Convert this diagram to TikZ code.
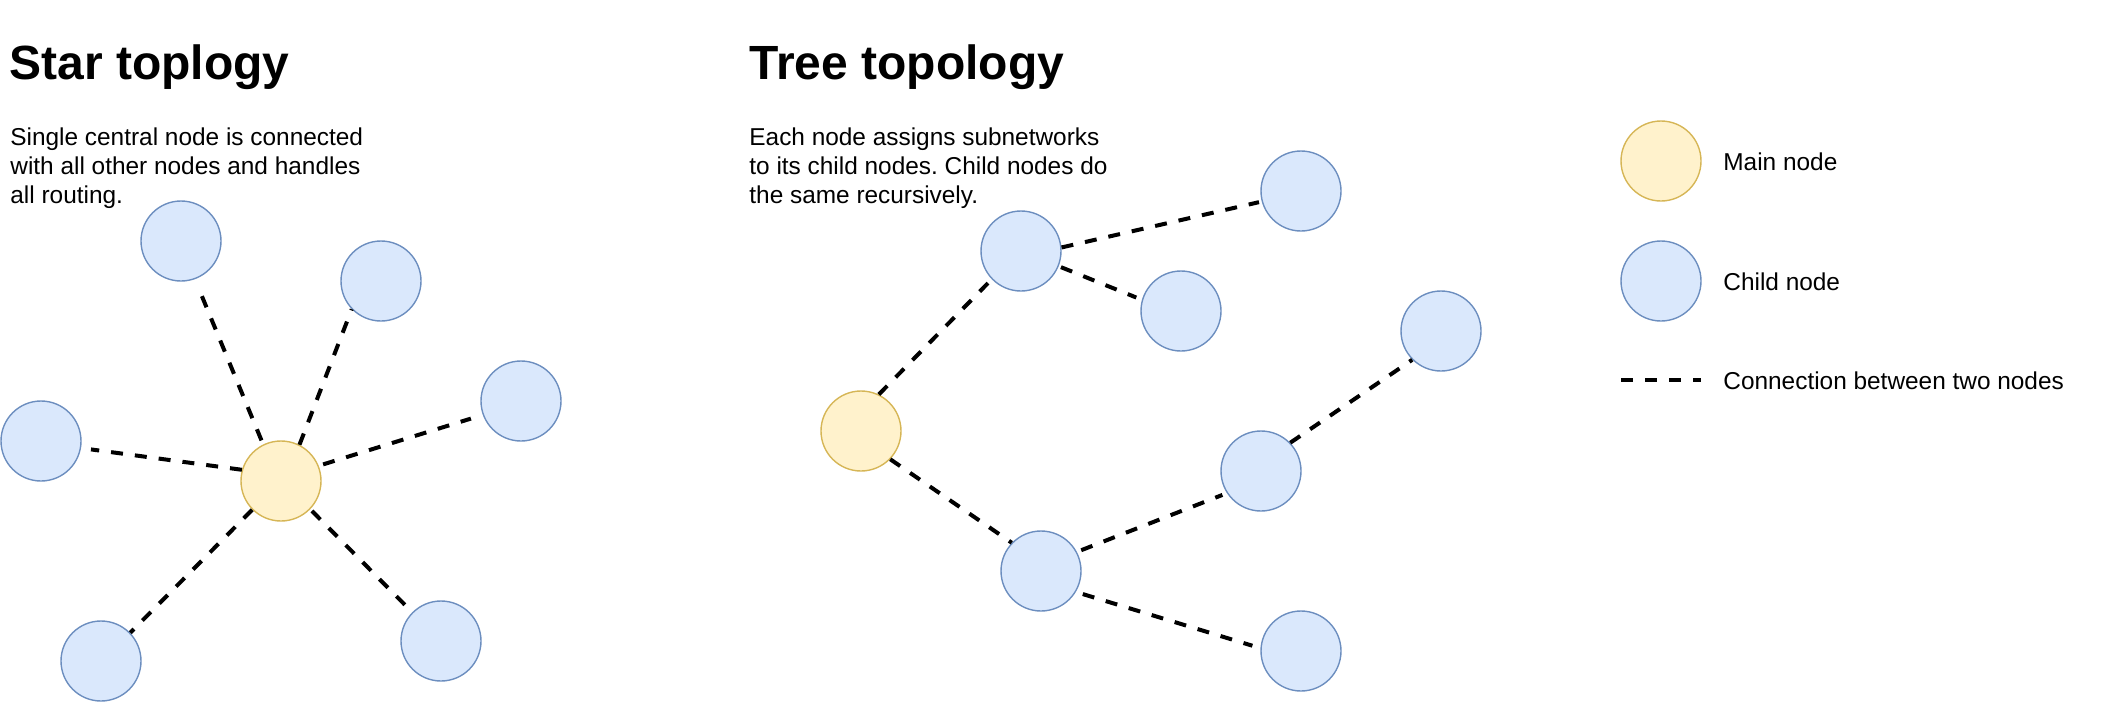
\documentclass[tikz,border=0pt]{standalone}
\usepackage{fontspec}
\setmainfont{Liberation Sans}
\frenchspacing
\definecolor{mainfill}{HTML}{FFF2CC}
\definecolor{maindraw}{HTML}{D6B656}
\definecolor{childfill}{HTML}{DAE8FC}
\definecolor{childdraw}{HTML}{6C8EBF}
\begin{document}
\begin{tikzpicture}[x=0.5pt,y=-0.5pt,
	mainnode/.style={circle,minimum size=40pt,inner sep=0pt,line width=0.7pt,draw=maindraw,fill=mainfill},
	childnode/.style={circle,minimum size=40pt,inner sep=0pt,line width=0.7pt,draw=childdraw,fill=childfill},
	link/.style={line width=2pt,dash pattern=on 6pt off 6pt},
	heading/.style={anchor=base west,inner sep=0pt,font=\fontsize{24}{29}\selectfont\bfseries},
	blurb/.style={anchor=base west,inner sep=0pt,align=left,font=\fontsize{12.2}{14.5}\selectfont},
	legendtext/.style={anchor=base west,inner sep=0pt,font=\fontsize{12.2}{14.5}\selectfont}]
\useasboundingbox (0,0) rectangle (2104,702);
% star topology
\node[heading] (startitle) at (9,79.5) {Star toplogy};
\node[blurb] (startext) at (10,203.3) {Single central node is connected\\with all other nodes and handles\\all routing.};
\node[mainnode] (m) at (281,481) {};
\foreach \n/\x/\y in {c1/181/241,c2/381/281,c3/521/401,c4/41/441,c5/101/661,c6/441/641}{
	\node[childnode] (\n) at (\x,\y) {};
}
\foreach \src/\dst/\ps/\pe in {m.116/c1.290/2.2/9,m.63/c2.224/0/0,m.22/c3.200/2.3/6.2,m.164/c4.350/0/5,m.225/c5.44/0/0,m.316/c6.135/1.2/0}{
	\draw[link,shorten <=\ps pt,shorten >=\pe pt] (\src) -- (\dst);
}
% tree topology
\node[heading] (treetitle) at (749,79.5) {Tree topology};
\node[blurb] (treetext) at (749,203.3) {Each node assigns subnetworks\\to its child nodes. Child nodes do\\the same recursively.};
\node[mainnode] (t0) at (861,431) {};
\foreach \n/\x/\y in {a/1021/251,a1/1301/191,a2/1181/311,b/1041/571,b1/1261/471,b11/1441/331,b2/1301/651}{
	\node[childnode] (\n) at (\x,\y) {};
}
\foreach \src/\dst/\ps/\pe in {t0.64/a.224/0/2.7,a.5/a1.195/0/1.4,a.338/a2.164/1.2/3,t0.316/b.136/0/0,b.28/b1.213/2.3/2.4,b1.44/b11.225/0/0,b.329/b2.176/3.6/4.2}{
	\draw[link,shorten <=\ps pt,shorten >=\pe pt] (\src) -- (\dst);
}
% legend
\node[mainnode] (keymain) at (1661,161) {};
\node[childnode] (keychild) at (1661,281) {};
\coordinate (keyfrom) at (1621,380);
\coordinate (keyto) at (1701,380);
\draw[link] (keyfrom) -- (keyto);
\node[legendtext] (keymaintext) at (1723,170) {Main node};
\node[legendtext] (keychildtext) at (1723,290) {Child node};
\node[legendtext] (keylinktext) at (1723,389.3) {Connection between two nodes};
\end{tikzpicture}
\end{document}
